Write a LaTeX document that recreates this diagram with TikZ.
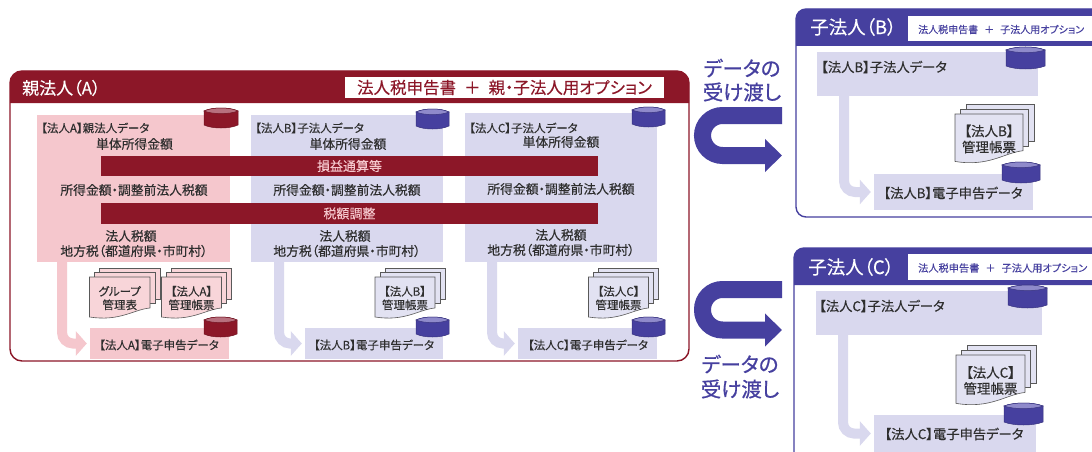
\documentclass[tikz,border=0pt]{standalone}
\usepackage{fontspec}
\usetikzlibrary{arrows.meta,calc}
\setmainfont[RawFeature=+palt,FakeBold=0.25]{Noto Sans CJK JP}
\newfontfamily\handfont[RawFeature=+palt,FakeBold=0.7]{Noto Sans CJK JP}
\definecolor{crim}{HTML}{8C1728}
\definecolor{indi}{HTML}{46409F}
\definecolor{pinkp}{HTML}{F5C7CD}
\definecolor{lavp}{HTML}{D9D8EE}
\definecolor{crimtop}{HTML}{B8707E}
\definecolor{inditop}{HTML}{8F8ACB}
\definecolor{ink}{HTML}{2E2E2E}
\newcommand{\fs}[1]{\fontsize{#1}{#1}\selectfont}
% cylinder: x,y (top-left), w, h, body, top
\newcommand{\dbcyl}[6]{%
  \draw[draw=#5!80!black,line width=.5pt,fill=#5] (#1,#2+3) -- (#1,#4+#2-3)
    .. controls (#1+#3*.25,#4+#2+1) and (#1+#3*.75,#4+#2+1) .. (#1+#3,#4+#2-3)
    -- (#1+#3,#2+3)
    .. controls (#1+#3*.75,#2-1) and (#1+#3*.25,#2-1) .. (#1,#2+3) -- cycle;
  \draw[draw=#5!80!black,line width=.5pt,fill=#6] (#1,#2+3)
    .. controls (#1+#3*.25,#2-1) and (#1+#3*.75,#2-1) .. (#1+#3,#2+3)
    .. controls (#1+#3*.75,#2+6.5) and (#1+#3*.25,#2+6.5) .. (#1,#2+3) -- cycle;
}
% document stack: name,x,y,w,h,offset,fill,size,text
\newcommand{\docstack}[9]{%
  \foreach \k in {2,1}{
    \draw[sheet,fill=#7] (#2+\k*#6,#3-\k*#6*.85) rectangle (#2+#4+\k*#6,#3+#5*.72-\k*#6*.85);
  }
  \draw[sheet,fill=#7] (#2,#3) -- (#2+#4,#3) -- (#2+#4,#3+#5*.72)
    .. controls (#2+#4*.72,#3+#5*.76) and (#2+#4*.5,#3+#5*1.04) .. (#2,#3+#5*.93) -- cycle;
  \node[docl,font=\fs{#8}] (#1) at (#2+#4*.5,#3+#5*.49) {#9};
}
\tikzset{
  x=1pt,y=-1pt,
  txt/.style={inner sep=0pt,text=ink,align=center},
  docl/.style={inner sep=0pt,text=ink,align=center},
  sheet/.style={draw=black!65,line width=.6pt},
  panel/.style={inner sep=0pt,minimum width=#1},
  pinkarrow/.style={draw=pinkp,line width=10pt,rounded corners=11pt,-{Triangle[width=24pt,length=11pt]},shorten >=3pt},
  lavarrow/.style={draw=lavp,line width=10pt,rounded corners=11pt,-{Triangle[width=24pt,length=11pt]},shorten >=3pt},
  uarrow/.style={draw=indi,line width=17pt,rounded corners=20pt,-{Triangle[width=32pt,length=17pt]}},
  barbox/.style={inner sep=0pt,fill=crim,text=pinkp,font=\fs{13}},
  heada/.style={inner sep=0pt,text=white},
  hand/.style={inner sep=0pt,text=indi,font=\handfont\fs{20.5},align=center},
}
\begin{document}
\begin{tikzpicture}
\useasboundingbox (0,0) rectangle (1092,452);
\clip (0,0) rectangle (1092,452);
\fill[white] (0,0) rectangle (1092,452);
%%% Parent
\draw[crim,line width=1.4pt,fill=white,rounded corners=12pt] (10,71) rectangle (689,361);
\fill[crim] (10,103) [rounded corners=12pt] -- (10,71) -- (689,71) [sharp corners] -- (689,103) -- cycle;
\node[heada,anchor=west,font=\fs{17}] (ta) at (22,88) {親法人（A）};
\node[fill=white,inner sep=0pt,minimum width=319pt,minimum height=21pt,text=crim,font=\fs{16.5}] (oa) at (504.5,87.5) {法人税申告書\hspace{8pt}＋\hspace{8pt}親・子法人用オプション};
% panels
\node[fill=pinkp,panel=193pt,minimum height=147pt] (pa) at (133.5,188.5) {};
\node[fill=lavp,panel=192pt,minimum height=147pt] (pb) at (347,188.5) {};
\node[fill=lavp,panel=192pt,minimum height=149pt] (pc) at (561,187.5) {};
% e-file boxes
\node[fill=pinkp,panel=139pt,minimum height=31pt] (ea) at (159.5,343.5) {};
\node[fill=lavp,panel=138pt,minimum height=31pt] (eb) at (374,343.5) {};
\node[fill=lavp,panel=139pt,minimum height=31pt] (ec) at (587.5,343.5) {};
% connectors
\coordinate (sa) at (62,262);
\coordinate (sb) at (279,262);
\coordinate (sc) at (492,262);
\draw[pinkarrow] (sa) |- (ea.west);
\draw[lavarrow] (sb) |- (eb.west);
\draw[lavarrow] (sc) |- (ec.west);
% bars
\node[barbox,minimum width=497pt,minimum height=20pt] (b1) at (349.5,166) {損益通算等};
\node[barbox,minimum width=497pt,minimum height=21pt] (b2) at (349.5,213.5) {税額調整};
% panel A text
\node[txt,anchor=west,font=\fs{11.5}] (a1) at (41,128) {【法人A】親法人データ};
\node[txt,font=\fs{12.8}] (a2) at (134.5,144) {単体所得金額};
\node[txt,font=\fs{12.8}] (a3) at (134,190) {所得金額・調整前法人税額};
\node[txt,font=\fs{12.8}] (a4) at (131,236) {法人税額};
\node[txt,font=\fs{12.8}] (a5) at (134,251) {地方税（都道府県・市町村）};
% panel B text
\node[txt,anchor=west,font=\fs{11.5}] (b1t) at (255,128) {【法人B】子法人データ};
\node[txt,font=\fs{12.8}] (b2t) at (348,144) {単体所得金額};
\node[txt,font=\fs{12.8}] (b3t) at (347,190) {所得金額・調整前法人税額};
\node[txt,font=\fs{12.8}] (b4t) at (345,236) {法人税額};
\node[txt,font=\fs{12.8}] (b5t) at (347,251) {地方税（都道府県・市町村）};
% panel C text
\node[txt,anchor=west,font=\fs{11.5}] (c1t) at (469,128) {【法人C】子法人データ};
\node[txt,font=\fs{12.8}] (c2t) at (561,142) {単体所得金額};
\node[txt,font=\fs{12.8}] (c3t) at (561,189) {所得金額・調整前法人税額};
\node[txt,font=\fs{12.8}] (c4t) at (561,235) {法人税額};
\node[txt,font=\fs{12.8}] (c5t) at (561,250) {地方税（都道府県・市町村）};
% docs
\docstack{dg}{89.5}{277}{60.5}{43}{5}{pinkp!75!white}{11.5}{グループ\\[2pt]管理表}
\docstack{da}{161.5}{277}{60}{43}{5}{pinkp!75!white}{11.5}{【法人A】\\[2pt]管理帳票}
\docstack{db}{375}{277}{60}{43}{5}{lavp!75!white}{11.5}{【法人B】\\[2pt]管理帳票}
\docstack{dc}{588.5}{277}{60}{43}{5}{lavp!75!white}{11.5}{【法人C】\\[2pt]管理帳票}
% e-file text
\node[txt,font=\fs{11.5}] (ea1) at (159,345) {【法人A】電子申告データ};
\node[txt,font=\fs{11.5}] (eb1) at (374,345) {【法人B】電子申告データ};
\node[txt,font=\fs{11.5}] (ec1) at (588,345) {【法人C】電子申告データ};
% cylinders
\dbcyl{204}{108}{34}{20}{crim}{crimtop}
\dbcyl{416}{109}{33}{20}{indi}{inditop}
\dbcyl{632}{107}{33}{20}{indi}{inditop}
\dbcyl{204}{317}{33}{20}{crim}{crimtop}
\dbcyl{416}{317}{33}{20}{indi}{inditop}
\dbcyl{632}{317}{33}{20}{indi}{inditop}
%%% Child B
\draw[indi,line width=1.4pt,fill=white,rounded corners=10pt] (796,9) rectangle (1110,217);
\fill[indi] (796,46) [rounded corners=10pt] -- (796,9) -- (1110,9) [sharp corners] -- (1110,46) -- cycle;
\node[heada,anchor=west,font=\fs{18.5}] (tb) at (810,27) {子法人（B）};
\node[fill=white,inner sep=0pt,minimum width=190pt,minimum height=25pt] (ob) at (1003,28.5) {};
\node[inner sep=0pt,text=indi,anchor=west,font=\fs{10}] (obt) at (918,29.5) {法人税申告書\hspace{6pt}＋\hspace{6pt}子法人用オプション};
\node[fill=lavp,panel=221pt,minimum height=44pt] (qb) at (927.5,74) {};
\node[fill=lavp,panel=159pt,minimum height=36pt] (fb) at (953.5,192) {};
\coordinate (sqb) at (844,96);
\draw[lavarrow] (sqb) |- (fb.west);
\node[txt,anchor=west,font=\fs{13.3}] (qbt) at (821,67) {【法人B】子法人データ};
\docstack{ddb}{955}{114}{68}{51}{5.5}{lavp!75!white}{13.5}{【法人B】\\[2.5pt]管理帳票}
\node[txt,font=\fs{13.3}] (fbt) at (953,193) {【法人B】電子申告データ};
\dbcyl{1006}{47}{39}{22}{indi}{inditop}
\dbcyl{1002}{162}{38}{21}{indi}{inditop}
%%% Child C
\draw[indi,line width=1.4pt,fill=white,rounded corners=10pt] (794,248) rectangle (1110,480);
\fill[indi] (794,285) [rounded corners=10pt] -- (794,248) -- (1110,248) [sharp corners] -- (1110,285) -- cycle;
\node[heada,anchor=west,font=\fs{18.5}] (tc) at (808,267) {子法人（C）};
\node[fill=white,inner sep=0pt,minimum width=190pt,minimum height=26pt] (oc) at (1003,267) {};
\node[inner sep=0pt,text=indi,anchor=west,font=\fs{10.2}] (oct) at (918,268) {法人税申告書\hspace{6pt}＋\hspace{6pt}子法人用オプション};
\node[fill=lavp,panel=226pt,minimum height=44pt] (qc) at (929,313) {};
\node[fill=lavp,panel=162pt,minimum height=37pt] (fc) at (955,433.5) {};
\coordinate (sqc) at (843,335);
\draw[lavarrow] (sqc) |- (fc.west);
\node[txt,anchor=west,font=\fs{13.3}] (qct) at (819,306) {【法人C】子法人データ};
\docstack{ddc}{956}{355}{69}{52}{5.5}{lavp!75!white}{13.5}{【法人C】\\[2.5pt]管理帳票}
\node[txt,font=\fs{13.3}] (fct) at (954,434) {【法人C】電子申告データ};
\dbcyl{1008}{285}{39}{23}{indi}{inditop}
\dbcyl{1004}{403}{39}{22}{indi}{inditop}
%%% Hand-over arrows
\coordinate (u1s) at (782,115.5);
\coordinate (u1e) at (782,155.5);
\coordinate (u1l) at (702.5,135);
\draw[uarrow] (u1s) -- (u1l |- u1s) -- (u1l |- u1e) -- (u1e);
\coordinate (u2s) at (782,289.5);
\coordinate (u2e) at (782,330);
\coordinate (u2l) at (702.5,310);
\draw[uarrow] (u2s) -- (u2l |- u2s) -- (u2l |- u2e) -- (u2e);
\node[hand] (h1) at (742,68) {データの};
\node[hand] (h2) at (742,92) {受け渡し};
\node[hand] (h3) at (740,364) {データの};
\node[hand] (h4) at (740,389) {受け渡し};
\end{tikzpicture}
\end{document}
